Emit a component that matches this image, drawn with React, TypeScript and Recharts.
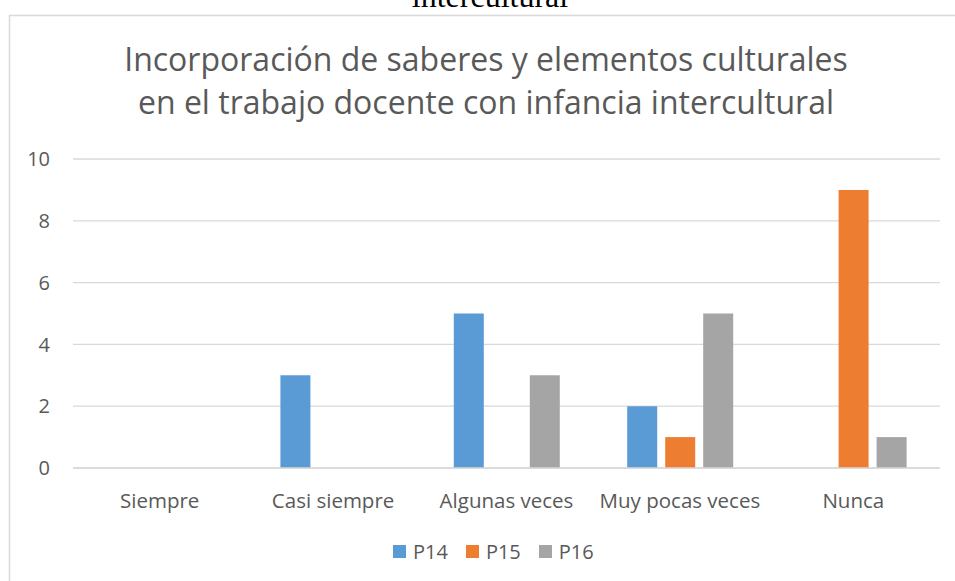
import React from "react";
import { BarChart, Bar, XAxis, YAxis, CartesianGrid, Legend } from "recharts";

const categories = ["Siempre", "Casi siempre", "Algunas veces", "Muy pocas veces", "Nunca"];
const p14 = [0, 3, 5, 2, 0];
const p15 = [0, 0, 0, 1, 9];
const p16 = [0, 0, 3, 5, 1];
const yTicks = [0, 2, 4, 6, 8, 10];
const seriesNames = ["P14", "P15", "P16"];
const seriesColors = ["#5B9BD5", "#ED7D31", "#A5A5A5"];
const titleLines = [
  "Incorporación de saberes y elementos culturales",
  "en el trabajo docente con infancia intercultural",
];
const captionTail = "intercultural";

const data = categories.map((c, i) => ({ name: c, P14: p14[i], P15: p15[i], P16: p16[i] }));

const FONT = "'Open Sans', sans-serif";
const TEXT = "#595959";

const LegendContent = (props: any) => {
  const { payload } = props;
  return (
    <div style={{ display: "flex", alignItems: "center", fontFamily: FONT, fontSize: 20, color: TEXT }}>
      {(payload || []).map((p: any, i: number) => (
        <div key={i} style={{ display: "flex", alignItems: "center", marginRight: 18 }}>
          <div style={{ width: 13, height: 13, background: p.color, marginRight: 7 }} />
          <span>{p.value}</span>
        </div>
      ))}
    </div>
  );
};

export default function App() {
  return (
    <div style={{ position: "absolute", left: 0, top: 0, width: 955, height: 581, background: "#fff", overflow: "hidden" }}>
      <svg width={955} height={581} style={{ position: "absolute", left: 0, top: 0 }}>
        <text x={490} y={7} textAnchor="middle" fontFamily="'Liberation Serif', serif" fontSize={32} fill="#000">
          {captionTail}
        </text>
        <rect x={9.5} y={15.5} width={1000} height={1000} fill="none" stroke="#d9d9d9" strokeWidth={1.5} />
        {titleLines.map((t, i) => (
          <text key={i} x={486} y={71 + i * 42.5} textAnchor="middle" fontFamily={FONT} fontSize={32} fill={TEXT}>
            {t}
          </text>
        ))}
      </svg>
      <div style={{ position: "absolute", left: 0, top: 0 }}>
        <BarChart
          width={955}
          height={581}
          data={data}
          margin={{ top: 159, right: 15, bottom: 73, left: 0 }}
          barSize={30}
          barGap={8}
        >
          <CartesianGrid vertical={false} stroke="#d9d9d9" strokeWidth={1.3} />
          <XAxis
            dataKey="name"
            axisLine={{ stroke: "#d9d9d9", strokeWidth: 1.3 }}
            tickLine={false}
            height={40}
            tickMargin={19}
            tick={{ fill: TEXT, fontSize: 20.5, fontFamily: FONT }}
            interval={0}
          />
          <YAxis
            width={73}
            domain={[0, 10]}
            ticks={yTicks}
            axisLine={false}
            tickLine={false}
            tickMargin={17}
            tick={{ fill: TEXT, fontSize: 20, fontFamily: FONT }}
          />
          <Legend
            layout="horizontal"
            verticalAlign="middle"
            align="center"
            content={<LegendContent />}
            wrapperStyle={{ position: "absolute", left: 393, top: 538, width: "auto" }}
          />
          {seriesNames.map((s, i) => (
            <Bar key={s} dataKey={s} name={s} fill={seriesColors[i]} isAnimationActive={false} />
          ))}
        </BarChart>
      </div>
    </div>
  );
}
